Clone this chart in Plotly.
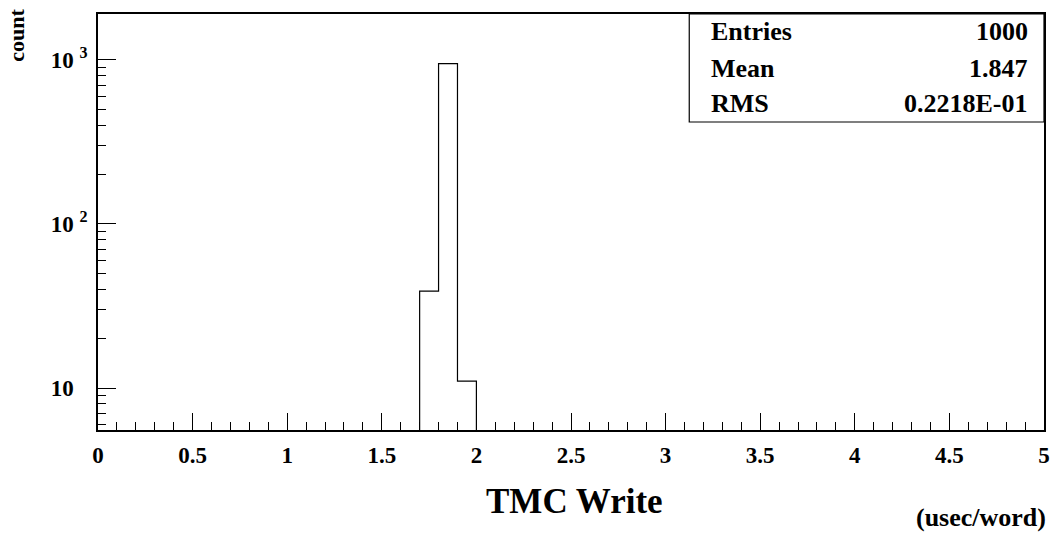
import plotly.graph_objects as go

# Histogram data (bin width 0.1)
bin_edges = [1.7, 1.8, 1.9, 2.0]
counts = [39, 950, 11]

stat_labels = ["Entries", "Mean", "RMS"]
stat_values = ["1000", "1.847", "0.2218E-01"]

x_ticks = [0, 0.5, 1, 1.5, 2, 2.5, 3, 3.5, 4, 4.5, 5]
x_ticktext = ["0", "0.5", "1", "1.5", "2", "2.5", "3", "3.5", "4", "4.5", "5"]
y_ticks = [10, 100, 1000]
y_ticktext = ["10 <sup><span style='color:rgba(0,0,0,0)'>0</span></sup>",
              "10 <sup>2</sup>", "10 <sup>3</sup>"]

FLOOR = 1  # below visible range, clipped by axis
xs, ys = [bin_edges[0]], [FLOOR]
for i, c in enumerate(counts):
    xs += [bin_edges[i], bin_edges[i + 1]]
    ys += [c, c]
xs.append(bin_edges[-1])
ys.append(FLOOR)

FONT = "Liberation Serif"

fig = go.Figure()
fig.add_trace(go.Scatter(x=xs, y=ys, mode="lines",
                         line=dict(color="black", width=1.2),
                         hoverinfo="skip", showlegend=False))

x_minor = [round(i * 0.1, 1) for i in range(51) if i % 5 != 0]
y_minor = [6, 7, 8, 9, 20, 30, 40, 50, 60, 70, 80, 90,
           200, 300, 400, 500, 600, 700, 800, 900]

fig.update_layout(
    width=1062, height=534,
    margin=dict(l=98, r=12, t=14, b=104),
    paper_bgcolor="white", plot_bgcolor="white",
    font=dict(family=FONT, color="black"),
    showlegend=False,
    xaxis=dict(range=[0, 5], tickmode="array", tickvals=x_ticks, ticktext=x_ticktext,
               ticks="inside", ticklen=17, tickwidth=1, tickcolor="black",
               showline=True, linecolor="black", linewidth=1.5, mirror=True,
               showgrid=False, zeroline=False, ticklabelstandoff=4,
               tickfont=dict(family=FONT, size=23, color="black", weight="bold"),
               minor=dict(tickmode="array", tickvals=x_minor, ticks="inside",
                          ticklen=8, tickwidth=1, tickcolor="black", showgrid=False)),
    yaxis=dict(type="log", range=[0.744, 3.28], tickmode="array",
               tickvals=y_ticks, ticktext=y_ticktext,
               ticks="inside", ticklen=18, tickwidth=1, tickcolor="black",
               showline=True, linecolor="black", linewidth=1.5, mirror=True,
               showgrid=False, zeroline=False, ticklabelstandoff=4,
               tickfont=dict(family=FONT, size=23, color="black", weight="bold"),
               minor=dict(tickmode="array", tickvals=y_minor, ticks="inside",
                          ticklen=8, tickwidth=1, tickcolor="black", showgrid=False)),
)

# Stats box
fig.add_shape(type="rect", xref="paper", yref="paper", x0=0.625, x1=1.0, y0=0.7404, y1=1.0,
              line=dict(color="black", width=1.2), fillcolor="white")
stat_y = [0.957, 0.868, 0.784]
for lab, val, yy in zip(stat_labels, stat_values, stat_y):
    fig.add_annotation(xref="paper", yref="paper", x=0.646, y=yy, text=lab, showarrow=False,
                       xanchor="left", yanchor="middle",
                       font=dict(family=FONT, size=26, color="black", weight="bold"))
    fig.add_annotation(xref="paper", yref="paper", x=0.985, y=yy, text=val, showarrow=False,
                       xanchor="right", yanchor="middle",
                       font=dict(family=FONT, size=26, color="black", weight="bold"))

# Axis titles
fig.add_annotation(xref="paper", yref="paper", x=0.504, y=-0.173, text="TMC Write", showarrow=False,
                   xanchor="center", yanchor="middle",
                   font=dict(family=FONT, size=35, color="black", weight="bold"))
fig.add_annotation(xref="paper", yref="paper", x=1.004, y=-0.2115, text="(usec/word)", showarrow=False,
                   xanchor="right", yanchor="middle",
                   font=dict(family=FONT, size=26, color="black", weight="bold"))
fig.add_annotation(xref="paper", yref="paper", x=-0.087, y=0.9495, text="count", showarrow=False,
                   textangle=-90, xanchor="center", yanchor="middle",
                   font=dict(family=FONT, size=22, color="black", weight="bold"))

fig.write_html("out.html")
